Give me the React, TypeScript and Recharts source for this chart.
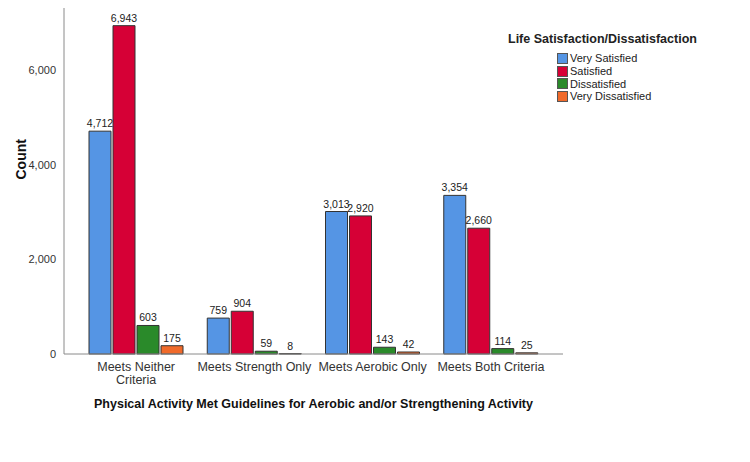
import React from "react";
import { BarChart, Bar, XAxis, YAxis, LabelList } from "recharts";

// activity groups on the x axis
const categories = [
  "Meets Neither Criteria",
  "Meets Strength Only",
  "Meets Aerobic Only",
  "Meets Both Criteria",
];

// counts per life satisfaction level
const verySatisfied = [4712, 759, 3013, 3354];
const satisfied = [6943, 904, 2920, 2660];
const dissatisfied = [603, 59, 143, 114];
const veryDissatisfied = [175, 8, 42, 25];

const yTicks = [0, 2000, 4000, 6000];

const series = [
  { key: "verySatisfied", name: "Very Satisfied", color: "#5595E4" },
  { key: "satisfied", name: "Satisfied", color: "#D60036" },
  { key: "dissatisfied", name: "Dissatisfied", color: "#2A8A2A" },
  { key: "veryDissatisfied", name: "Very Dissatisfied", color: "#F06A2A" },
];

const data = categories.map((c, i) => ({
  category: c,
  verySatisfied: verySatisfied[i],
  satisfied: satisfied[i],
  dissatisfied: dissatisfied[i],
  veryDissatisfied: veryDissatisfied[i],
}));

const FONT = "'Liberation Sans', Arial, sans-serif";

// the first category label breaks onto two lines
const tickLines: Record<string, string[]> = {
  "Meets Neither Criteria": ["Meets Neither", "Criteria"],
};

const CategoryTick = (props: any) => {
  const { x, y, payload } = props;
  const lines = tickLines[payload.value] ?? [payload.value];
  return (
    <text
      x={x}
      y={y}
      textAnchor="middle"
      fontSize={12.5}
      fill="#333"
      fontFamily={FONT}
    >
      {lines.map((l, i) => (
        <tspan key={i} x={x} dy={i === 0 ? 9 : 13}>
          {l}
        </tspan>
      ))}
    </text>
  );
};

const LegendBox = () => (
  <div
    style={{
      position: "absolute",
      top: 32,
      left: 508,
      fontFamily: FONT,
      color: "#222",
    }}
  >
    <div style={{ fontSize: 12.5, fontWeight: "bold", marginBottom: 6 }}>
      Life Satisfaction/Dissatisfaction
    </div>
    {series.map((s) => (
      <div
        key={s.key}
        style={{
          display: "flex",
          alignItems: "center",
          marginLeft: 49,
          height: 12.7,
          fontSize: 11,
        }}
      >
        <span
          style={{
            display: "inline-block",
            width: 9,
            height: 9,
            background: s.color,
            border: "1px solid #555",
            marginRight: 2,
          }}
        />
        {s.name}
      </div>
    ))}
  </div>
);

export default function App() {
  return (
    <div
      style={{
        position: "relative",
        margin: -8,
        width: 750,
        height: 462,
        background: "#fff",
      }}
    >
      <BarChart
        width={750}
        height={462}
        data={data}
        margin={{ top: 5, right: 187, left: 0, bottom: 78 }}
        barSize={22}
        barGap={2}
        barCategoryGap={12}
      >
        <XAxis
          dataKey="category"
          height={30}
          tick={<CategoryTick />}
          tickLine={false}
          axisLine={{ stroke: "#8a8a8a" }}
          padding={{ left: 13, right: 13 }}
          interval={0}
          label={{
            value:
              "Physical Activity Met Guidelines for Aerobic and/or Strengthening Activity",
            position: "bottom",
            offset: 15,
            fontSize: 12.5,
            fontWeight: "bold",
            fill: "#111",
            fontFamily: FONT,
          }}
        />
        <YAxis
          width={64}
          domain={[0, 7380]}
          ticks={yTicks}
          tickLine={false}
          axisLine={{ stroke: "#8a8a8a" }}
          tickFormatter={(v: number) => v.toLocaleString("en-US")}
          tick={{ fontSize: 11, fill: "#333", fontFamily: FONT }}
          tickMargin={2}
          label={{
            value: "Count",
            angle: -90,
            position: "insideLeft",
            offset: 21,
            fontSize: 14,
            fontWeight: "bold",
            fill: "#111",
            fontFamily: FONT,
          }}
        />
        {series.map((s) => (
          <Bar
            key={s.key}
            dataKey={s.key}
            name={s.name}
            fill={s.color}
            stroke="#333"
            strokeWidth={1}
            isAnimationActive={false}
          >
            <LabelList
              dataKey={s.key}
              position="top"
              offset={4}
              formatter={(v: any) => Number(v).toLocaleString("en-US")}
              style={{ fontSize: 10.5, fill: "#222", fontFamily: FONT }}
            />
          </Bar>
        ))}
      </BarChart>
      <LegendBox />
    </div>
  );
}
